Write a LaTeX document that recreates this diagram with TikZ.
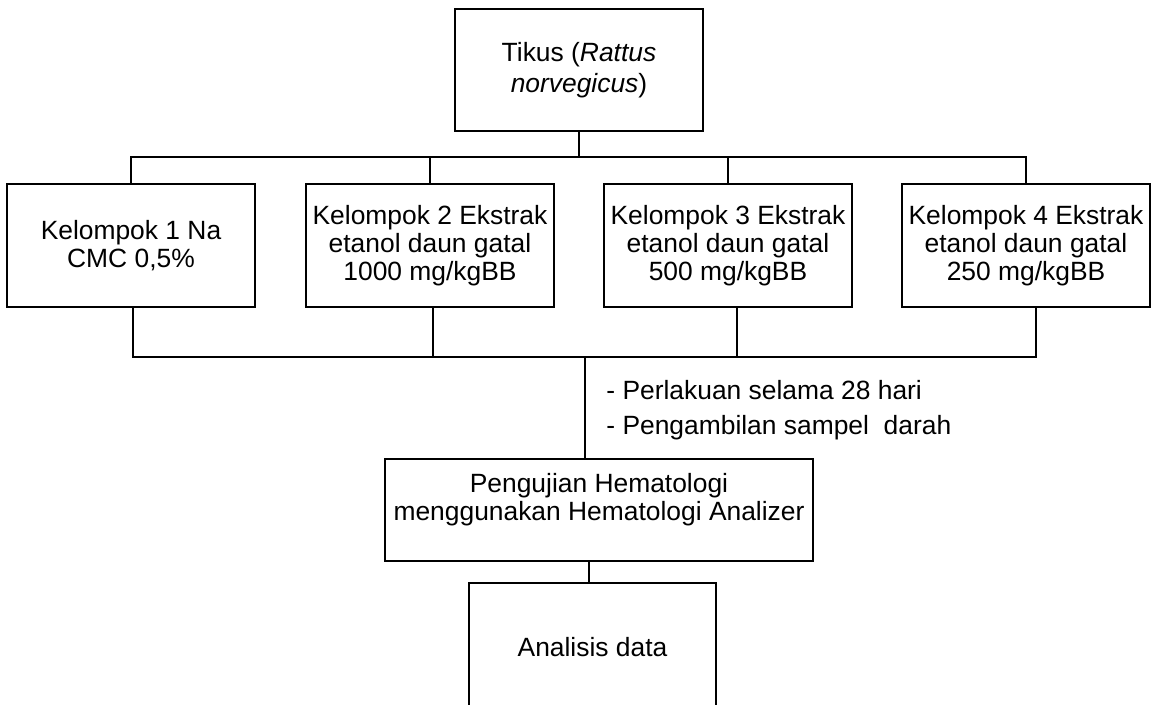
\documentclass[tikz,border=0pt]{standalone}
\usepackage{fontspec}
\setmainfont{Liberation Sans}
\usepackage{tikz}

\begin{document}
\begin{tikzpicture}[x=0.5pt,y=-0.5pt,
  box/.style={draw, line width=1pt, align=center, inner sep=0pt,
    font=\fontsize{13.2}{14}\selectfont},
  grp/.style={box, minimum width=124pt, minimum height=61.5pt},
  note/.style={anchor=west, inner sep=0pt, font=\fontsize{13.2}{14}\selectfont},
  bus/.style={line width=1pt}]
\clip (0,0) rectangle (1151,705);
% Top box
\node[box, minimum width=124pt, minimum height=61pt] (tikus) at (579,70)
  {\raisebox{-5pt}{\shortstack{Tikus (\textit{Rattus}\\\textit{norvegicus})}}};
% The four groups
\node[grp] (k1) at (131,245.5) {Kelompok 1 Na\\CMC 0,5\%};
\node[grp] (k2) at (430,245.5) {Kelompok 2 Ekstrak\\etanol daun gatal\\1000 mg/kgBB};
\node[grp] (k3) at (728,245.5) {Kelompok 3 Ekstrak\\etanol daun gatal\\500 mg/kgBB};
\node[grp] (k4) at (1026,245.5) {Kelompok 4 Ekstrak\\etanol daun gatal\\250 mg/kgBB};
% Test and analysis
\node[box, minimum width=214pt, minimum height=51pt] (hema) at (599,510)
  {Pengujian Hematologi\\menggunakan Hematologi Analizer\\[-5pt]\strut};
\node[box, minimum width=123.5pt, minimum height=64pt] (data) at (592.5,647) {Analisis data};
% Notes beside the line
\node[note] (n1) at (606,390) {- Perlakuan selama 28 hari};
\node[note] (n2) at (606,428) {- Pengambilan sampel\ \ darah};
% Upper bus
\coordinate (b1) at (0,157);
\draw[bus] (tikus.south) -- (tikus.south |- b1);
\draw[bus] (k1.north) -- (k1.north |- b1) -- (k4.north |- b1) -- (k4.north);
\draw[bus] (k2.north) -- (k2.north |- b1);
\draw[bus] (k3.north) -- (k3.north |- b1);
% Lower bus
\coordinate (b2) at (0,357);
\coordinate (drop) at (585,357);
\draw[bus] ([xshift=1pt]k1.south) -- ([xshift=1pt]k1.south |- b2)
  -- ([xshift=5pt]k4.south |- b2) -- ([xshift=5pt]k4.south);
\draw[bus] ([xshift=1.5pt]k2.south) -- ([xshift=1.5pt]k2.south |- b2);
\draw[bus] ([xshift=4.5pt]k3.south) -- ([xshift=4.5pt]k3.south |- b2);
\draw[bus] (drop) -- (drop |- hema.north);
\draw[bus] ([xshift=-5pt]hema.south) -- ([xshift=-5pt]hema.south |- data.north);
\end{tikzpicture}
\end{document}
